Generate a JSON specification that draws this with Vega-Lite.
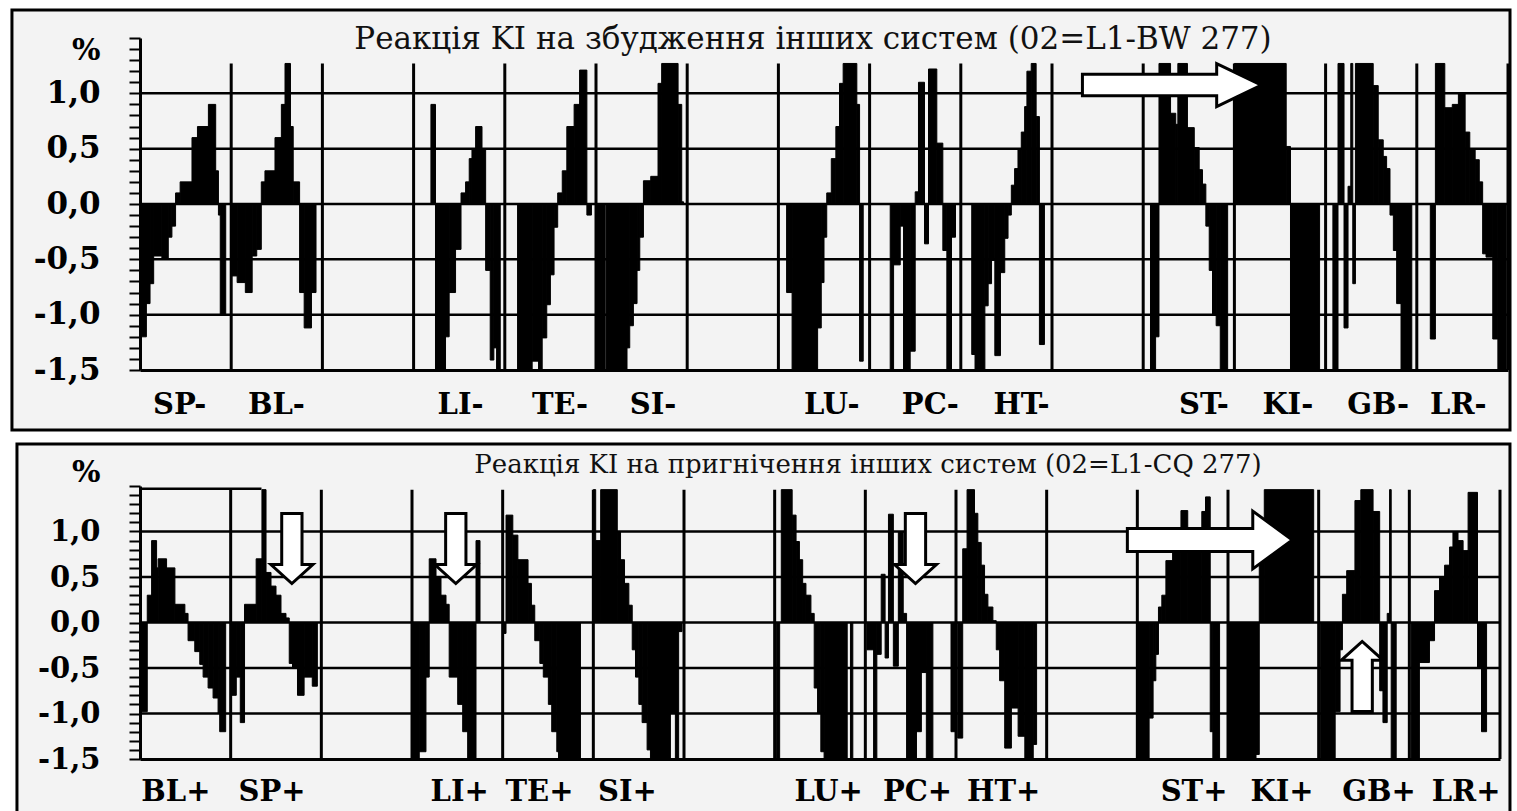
{
  "$schema": "https://vega.github.io/schema/vega-lite/v6.json",
  "background": "white",
  "padding": {"left": 10, "top": 8, "right": 0, "bottom": 0},
  "spacing": 10,
  "config": {
    "view": {"stroke": null},
    "axis": {"domainColor": "black", "tickColor": "black", "labelColor": "black", "titleColor": "black", "grid": false, "labelOverlap": false, "labelFlush": false, "labelBound": false}
  },
  "datasets": {
    "top": [
      {"a":0,"b":0.07,"v":-1.2},{"a":0.07,"b":0.11,"v":-0.9},{"a":0.11,"b":0.15,"v":-0.72},{"a":0.15,"b":0.24,"v":-0.47},{"a":0.24,"b":0.31,"v":-0.5},{"a":0.31,"b":0.35,"v":-0.3},{"a":0.35,"b":0.39,"v":-0.2},{"a":0.39,"b":0.44,"v":0.1},{"a":0.44,"b":0.57,"v":0.2},{"a":0.57,"b":0.63,"v":0.6},{"a":0.63,"b":0.75,"v":0.7},{"a":0.75,"b":0.83,"v":0.9},{"a":0.83,"b":0.86,"v":0.3},{"a":0.86,"b":0.88,"v":-0.1},{"a":0.88,"b":0.94,"v":-1.0},
      {"a":1.0,"b":1.065,"v":-0.65},{"a":1.065,"b":1.155,"v":-0.71},{"a":1.155,"b":1.23,"v":-0.8},{"a":1.23,"b":1.28,"v":-0.47},{"a":1.28,"b":1.33,"v":-0.41},{"a":1.33,"b":1.37,"v":0.2},{"a":1.37,"b":1.48,"v":0.3},{"a":1.48,"b":1.55,"v":0.6},{"a":1.55,"b":1.59,"v":0.9},{"a":1.59,"b":1.65,"v":1.27},{"a":1.65,"b":1.68,"v":0.7},{"a":1.68,"b":1.75,"v":0.2},{"a":1.75,"b":1.8,"v":-0.8},{"a":1.8,"b":1.88,"v":-1.12},{"a":1.88,"b":1.93,"v":-0.8},
      {"a":3.19,"b":3.24,"v":0.9},{"a":3.24,"b":3.35,"v":-1.5},{"a":3.35,"b":3.39,"v":-1.2},{"a":3.39,"b":3.46,"v":-0.8},{"a":3.46,"b":3.52,"v":-0.41},{"a":3.52,"b":3.57,"v":0.1},{"a":3.57,"b":3.61,"v":0.2},{"a":3.61,"b":3.64,"v":0.41},{"a":3.64,"b":3.68,"v":0.5},{"a":3.68,"b":3.75,"v":0.7},{"a":3.75,"b":3.79,"v":0.5},{"a":3.79,"b":3.84,"v":-0.6},{"a":3.84,"b":3.88,"v":-1.41},{"a":3.88,"b":3.91,"v":-1.3},{"a":3.91,"b":3.95,"v":-1.5},
      {"a":4.14,"b":4.3,"v":-1.5},{"a":4.3,"b":4.37,"v":-1.42},{"a":4.37,"b":4.41,"v":-1.5},{"a":4.41,"b":4.46,"v":-1.21},{"a":4.46,"b":4.5,"v":-0.91},{"a":4.5,"b":4.54,"v":-0.64},{"a":4.54,"b":4.58,"v":-0.21},{"a":4.58,"b":4.63,"v":0.1},{"a":4.63,"b":4.68,"v":0.3},{"a":4.68,"b":4.76,"v":0.7},{"a":4.76,"b":4.82,"v":0.9},{"a":4.82,"b":4.9,"v":1.21},{"a":4.9,"b":4.95,"v":-0.1},
      {"a":5.0,"b":5.1,"v":-1.5},{"a":5.11,"b":5.34,"v":-1.5},{"a":5.34,"b":5.37,"v":-1.3},{"a":5.37,"b":5.41,"v":-1.1},{"a":5.41,"b":5.45,"v":-0.9},{"a":5.45,"b":5.48,"v":-0.6},{"a":5.48,"b":5.52,"v":-0.3},{"a":5.52,"b":5.6,"v":0.21},{"a":5.6,"b":5.68,"v":0.25},{"a":5.68,"b":5.72,"v":1.09},{"a":5.72,"b":5.9,"v":1.27},{"a":5.9,"b":5.94,"v":0.9},{"a":5.94,"b":5.96,"v":0.02},
      {"a":7.09,"b":7.15,"v":-0.8},{"a":7.15,"b":7.43,"v":-1.5},{"a":7.43,"b":7.47,"v":-1.12},{"a":7.47,"b":7.5,"v":-0.71},{"a":7.5,"b":7.53,"v":-0.3},{"a":7.53,"b":7.58,"v":0.1},{"a":7.58,"b":7.63,"v":0.41},{"a":7.63,"b":7.67,"v":0.7},{"a":7.67,"b":7.71,"v":1.09},{"a":7.71,"b":7.86,"v":1.27},{"a":7.86,"b":7.89,"v":0.9},{"a":7.89,"b":7.93,"v":-1.42},
      {"a":8.226,"b":8.263,"v":-1.5},{"a":8.263,"b":8.336,"v":-0.55},{"a":8.336,"b":8.372,"v":-0.2},{"a":8.372,"b":8.445,"v":-1.5},{"a":8.445,"b":8.5,"v":-1.33},{"a":8.5,"b":8.536,"v":0.11},{"a":8.536,"b":8.602,"v":1.1},{"a":8.602,"b":8.646,"v":-0.36},{"a":8.646,"b":8.737,"v":1.22},{"a":8.737,"b":8.803,"v":0.55},{"a":8.803,"b":8.847,"v":-0.42},{"a":8.847,"b":8.898,"v":-1.5},{"a":8.898,"b":8.942,"v":-0.3},
      {"a":9.12,"b":9.156,"v":-1.36},{"a":9.156,"b":9.264,"v":-1.5},{"a":9.264,"b":9.3,"v":-0.92},{"a":9.3,"b":9.337,"v":-0.72},{"a":9.337,"b":9.373,"v":-0.51},{"a":9.373,"b":9.435,"v":-1.37},{"a":9.435,"b":9.482,"v":-0.62},{"a":9.482,"b":9.518,"v":-0.31},{"a":9.518,"b":9.554,"v":-0.1},{"a":9.554,"b":9.59,"v":0.17},{"a":9.59,"b":9.627,"v":0.32},{"a":9.627,"b":9.663,"v":0.49},{"a":9.663,"b":9.7,"v":0.65},{"a":9.7,"b":9.725,"v":0.88},{"a":9.725,"b":9.772,"v":1.2},{"a":9.772,"b":9.826,"v":1.27},{"a":9.826,"b":9.862,"v":0.79},{"a":9.862,"b":9.917,"v":-1.27},
      {"a":11.08,"b":11.136,"v":-1.5},{"a":11.136,"b":11.173,"v":-1.2},{"a":11.173,"b":11.3,"v":1.27},{"a":11.3,"b":11.357,"v":0.82},{"a":11.357,"b":11.38,"v":0.72},{"a":11.38,"b":11.485,"v":1.27},{"a":11.485,"b":11.56,"v":0.69},{"a":11.56,"b":11.614,"v":0.51},{"a":11.614,"b":11.65,"v":0.31},{"a":11.65,"b":11.687,"v":0.18},{"a":11.687,"b":11.724,"v":-0.2},{"a":11.724,"b":11.76,"v":-0.6},{"a":11.76,"b":11.8,"v":-1.0},{"a":11.8,"b":11.845,"v":-1.1},{"a":11.845,"b":11.926,"v":-1.5},
      {"a":12.0,"b":12.568,"v":1.27},{"a":12.568,"b":12.615,"v":0.52},{"a":12.615,"b":12.934,"v":-1.5},
      {"a":13.08,"b":13.136,"v":-1.5},{"a":13.136,"b":13.202,"v":1.27},{"a":13.202,"b":13.246,"v":-1.12},{"a":13.246,"b":13.276,"v":0.16},{"a":13.276,"b":13.298,"v":1.27},{"a":13.298,"b":13.327,"v":-0.72},{"a":13.327,"b":13.522,"v":1.27},{"a":13.522,"b":13.577,"v":1.07},{"a":13.577,"b":13.632,"v":0.58},{"a":13.632,"b":13.669,"v":0.43},{"a":13.669,"b":13.706,"v":0.32},{"a":13.706,"b":13.743,"v":-0.1},{"a":13.743,"b":13.779,"v":-0.42},{"a":13.779,"b":13.827,"v":-0.9},{"a":13.827,"b":13.945,"v":-1.5},
      {"a":14.148,"b":14.204,"v":-1.22},{"a":14.204,"b":14.307,"v":1.27},{"a":14.307,"b":14.389,"v":0.87},{"a":14.389,"b":14.456,"v":0.9},{"a":14.456,"b":14.53,"v":1.0},{"a":14.53,"b":14.581,"v":0.65},{"a":14.581,"b":14.64,"v":0.5},{"a":14.64,"b":14.685,"v":0.4},{"a":14.685,"b":14.722,"v":0.2},{"a":14.722,"b":14.759,"v":-0.45},{"a":14.759,"b":14.833,"v":-0.48},{"a":14.833,"b":14.889,"v":-1.22},{"a":14.889,"b":14.981,"v":-1.5}
    ],
    "bot": [
      {"a":0,"b":0.018,"v":-0.12},{"a":0.018,"b":0.08,"v":-0.98},{"a":0.08,"b":0.128,"v":0.3},{"a":0.128,"b":0.183,"v":0.9},{"a":0.183,"b":0.2,"v":0.6},{"a":0.2,"b":0.293,"v":0.7},{"a":0.293,"b":0.385,"v":0.6},{"a":0.385,"b":0.495,"v":0.2},{"a":0.495,"b":0.53,"v":0.1},{"a":0.53,"b":0.604,"v":-0.2},{"a":0.604,"b":0.659,"v":-0.32},{"a":0.659,"b":0.696,"v":-0.46},{"a":0.696,"b":0.751,"v":-0.6},{"a":0.751,"b":0.806,"v":-0.72},{"a":0.806,"b":0.861,"v":-0.83},{"a":0.861,"b":0.879,"v":-1.0},{"a":0.879,"b":0.945,"v":-1.2},
      {"a":1.007,"b":1.062,"v":-0.8},{"a":1.062,"b":1.106,"v":-0.6},{"a":1.106,"b":1.153,"v":-1.1},{"a":1.153,"b":1.281,"v":0.2},{"a":1.281,"b":1.345,"v":0.7},{"a":1.345,"b":1.39,"v":1.46},{"a":1.39,"b":1.445,"v":0.55},{"a":1.445,"b":1.5,"v":0.4},{"a":1.5,"b":1.555,"v":0.3},{"a":1.555,"b":1.61,"v":0.1},{"a":1.61,"b":1.646,"v":0.05},{"a":1.646,"b":1.682,"v":-0.45},{"a":1.682,"b":1.737,"v":-0.5},{"a":1.737,"b":1.81,"v":-0.8},{"a":1.81,"b":1.9,"v":-0.6},{"a":1.9,"b":1.956,"v":-0.7},
      {"a":3.0,"b":3.08,"v":-1.5},{"a":3.08,"b":3.154,"v":-1.42},{"a":3.154,"b":3.19,"v":-0.6},{"a":3.19,"b":3.265,"v":0.7},{"a":3.265,"b":3.32,"v":0.5},{"a":3.32,"b":3.375,"v":0.3},{"a":3.375,"b":3.41,"v":0.2},{"a":3.41,"b":3.504,"v":-0.6},{"a":3.504,"b":3.559,"v":-0.9},{"a":3.559,"b":3.614,"v":-1.2},{"a":3.614,"b":3.706,"v":-1.5},{"a":3.706,"b":3.75,"v":0.9},
      {"a":4.0,"b":4.037,"v":-0.12},{"a":4.037,"b":4.112,"v":1.18},{"a":4.112,"b":4.168,"v":0.96},{"a":4.168,"b":4.28,"v":0.69},{"a":4.28,"b":4.317,"v":0.43},{"a":4.317,"b":4.354,"v":0.19},{"a":4.354,"b":4.41,"v":-0.2},{"a":4.41,"b":4.448,"v":-0.45},{"a":4.448,"b":4.504,"v":-0.6},{"a":4.504,"b":4.541,"v":-0.9},{"a":4.541,"b":4.597,"v":-1.2},{"a":4.597,"b":4.616,"v":-1.42},{"a":4.616,"b":4.858,"v":-1.5},
      {"a":5.0,"b":5.026,"v":1.46},{"a":5.026,"b":5.081,"v":0.9},{"a":5.081,"b":5.264,"v":1.46},{"a":5.264,"b":5.3,"v":1.0},{"a":5.3,"b":5.344,"v":0.69},{"a":5.344,"b":5.392,"v":0.43},{"a":5.392,"b":5.429,"v":0.19},{"a":5.429,"b":5.465,"v":-0.3},{"a":5.465,"b":5.502,"v":-0.6},{"a":5.502,"b":5.538,"v":-0.9},{"a":5.538,"b":5.593,"v":-1.1},{"a":5.593,"b":5.63,"v":-1.4},{"a":5.63,"b":5.85,"v":-1.5},{"a":5.85,"b":5.905,"v":-1.0},{"a":5.905,"b":5.941,"v":-1.5},{"a":5.941,"b":5.978,"v":-0.1},
      {"a":7.018,"b":7.055,"v":-1.5},{"a":7.073,"b":7.193,"v":1.46},{"a":7.193,"b":7.236,"v":1.18},{"a":7.236,"b":7.273,"v":0.89},{"a":7.273,"b":7.309,"v":0.69},{"a":7.309,"b":7.345,"v":0.43},{"a":7.345,"b":7.4,"v":0.3},{"a":7.4,"b":7.436,"v":0.1},{"a":7.436,"b":7.473,"v":-0.72},{"a":7.473,"b":7.509,"v":-1.0},{"a":7.509,"b":7.545,"v":-1.42},{"a":7.545,"b":7.8,"v":-1.5},{"a":7.836,"b":7.862,"v":-1.5},
      {"a":8.018,"b":8.091,"v":-0.3},{"a":8.091,"b":8.127,"v":-1.5},{"a":8.127,"b":8.175,"v":-0.35},{"a":8.175,"b":8.218,"v":0.53},{"a":8.218,"b":8.255,"v":-0.39},{"a":8.255,"b":8.309,"v":1.19},{"a":8.309,"b":8.364,"v":-0.48},{"a":8.364,"b":8.418,"v":1.0},{"a":8.418,"b":8.455,"v":0.1},{"a":8.455,"b":8.564,"v":-1.5},{"a":8.564,"b":8.618,"v":-1.2},{"a":8.618,"b":8.673,"v":-0.55},{"a":8.673,"b":8.745,"v":-1.5},{"a":8.945,"b":9.0,"v":-1.2},
      {"a":9.019,"b":9.074,"v":-1.27},{"a":9.074,"b":9.122,"v":0.81},{"a":9.122,"b":9.204,"v":1.46},{"a":9.204,"b":9.241,"v":1.2},{"a":9.241,"b":9.278,"v":0.88},{"a":9.278,"b":9.315,"v":0.63},{"a":9.315,"b":9.352,"v":0.31},{"a":9.352,"b":9.407,"v":0.17},{"a":9.407,"b":9.444,"v":0.02},{"a":9.444,"b":9.481,"v":-0.3},{"a":9.481,"b":9.537,"v":-0.64},{"a":9.537,"b":9.611,"v":-1.38},{"a":9.611,"b":9.685,"v":-0.94},{"a":9.685,"b":9.759,"v":-1.25},{"a":9.759,"b":9.852,"v":-1.5},{"a":9.852,"b":9.889,"v":-1.34},
      {"a":11.0,"b":11.13,"v":-1.5},{"a":11.13,"b":11.174,"v":-1.05},{"a":11.174,"b":11.204,"v":-0.64},{"a":11.204,"b":11.233,"v":-0.35},{"a":11.233,"b":11.27,"v":0.17},{"a":11.27,"b":11.315,"v":0.3},{"a":11.315,"b":11.389,"v":0.68},{"a":11.389,"b":11.481,"v":0.9},{"a":11.481,"b":11.556,"v":1.23},{"a":11.556,"b":11.711,"v":0.9},{"a":11.711,"b":11.752,"v":1.22},{"a":11.752,"b":11.804,"v":1.38},{"a":11.804,"b":11.833,"v":-1.2},{"a":11.833,"b":11.907,"v":-1.5},
      {"a":12.011,"b":12.309,"v":-1.5},{"a":12.309,"b":12.345,"v":-1.45},{"a":12.345,"b":12.4,"v":1.0},{"a":12.4,"b":12.945,"v":1.46},
      {"a":13.018,"b":13.182,"v":-1.5},{"a":13.182,"b":13.236,"v":-0.98},{"a":13.236,"b":13.262,"v":-0.3},{"a":13.262,"b":13.309,"v":0.31},{"a":13.309,"b":13.4,"v":0.57},{"a":13.4,"b":13.465,"v":1.34},{"a":13.465,"b":13.6,"v":1.46},{"a":13.6,"b":13.673,"v":1.22},{"a":13.673,"b":13.709,"v":-0.75},{"a":13.709,"b":13.756,"v":-1.1},{"a":13.756,"b":13.782,"v":0.1},{"a":13.782,"b":13.8,"v":1.46},{"a":13.8,"b":13.855,"v":-1.5},
      {"a":14.019,"b":14.111,"v":-1.5},{"a":14.111,"b":14.222,"v":-0.44},{"a":14.222,"b":14.278,"v":-0.2},{"a":14.278,"b":14.333,"v":0.35},{"a":14.333,"b":14.389,"v":0.5},{"a":14.389,"b":14.444,"v":0.63},{"a":14.444,"b":14.481,"v":0.83},{"a":14.481,"b":14.537,"v":1.0},{"a":14.537,"b":14.593,"v":0.9},{"a":14.593,"b":14.648,"v":0.79},{"a":14.648,"b":14.752,"v":1.43},{"a":14.752,"b":14.796,"v":-0.5},{"a":14.796,"b":14.852,"v":-1.2}
    ]
  },
  "vconcat": [
    {
      "width": 1368,
      "height": 332,
      "title": {"text": "Реакція KI на збудження інших систем (02=L1-BW 277)", "font": "DejaVu Serif", "fontSize": 31, "fontWeight": "normal", "color": "#111111", "anchor": "middle", "frame": "group", "dx": -11, "offset": -47},
      "layer": [
        {
          "data": {"values": [{}]},
          "mark": {"type": "rect", "fill": "#f3f3f3", "stroke": "black", "strokeWidth": 3},
          "encoding": {
            "x": {"datum": -1.404, "type": "quantitative", "scale": {"domain": [0, 15], "nice": false, "zero": false}},
            "x2": {"datum": 15.022},
            "y": {"datum": 1.753, "type": "quantitative", "scale": {"domain": [-1.5, 1.5], "nice": false, "zero": false}},
            "y2": {"datum": -2.042}
          }
        },
        {
          "data": {"values": [{"g": -1}, {"g": -0.5}, {"g": 0}, {"g": 0.5}, {"g": 1}]},
          "mark": {"type": "rule", "color": "black", "strokeWidth": 2.5},
          "encoding": {"y": {"field": "g", "type": "quantitative", "scale": {"domain": [-1.5, 1.5], "nice": false, "zero": false}}}
        },
        {
          "data": {"values": [{"s": 1}, {"s": 2}, {"s": 3}, {"s": 4}, {"s": 5}, {"s": 6}, {"s": 7}, {"s": 8}, {"s": 9}, {"s": 10}, {"s": 11}, {"s": 12}, {"s": 13}, {"s": 14}, {"s": 15}]},
          "mark": {"type": "rule", "color": "black", "strokeWidth": 3},
          "encoding": {
            "x": {"field": "s", "type": "quantitative", "scale": {"domain": [0, 15], "nice": false, "zero": false}},
            "y": {"datum": -1.5, "type": "quantitative", "scale": {"domain": [-1.5, 1.5], "nice": false, "zero": false}},
            "y2": {"datum": 1.27}
          }
        },
        {
          "data": {"name": "top"},
          "mark": {"type": "rect", "color": "black", "stroke": "black", "strokeWidth": 1},
          "encoding": {
            "x": {"field": "a", "type": "quantitative", "scale": {"domain": [0, 15], "nice": false, "zero": false},
              "axis": {"zindex": 2, "tickCount": 60, "values": [0.43, 1.49, 3.51, 4.6, 5.62, 7.58, 8.66, 9.66, 11.66, 12.58, 13.57, 14.45], "labelExpr": "['SP-','BL-','','LI-','TE-','SI-','','LU-','PC-','HT-','','ST-','KI-','GB-','LR-'][floor(datum.value)]", "ticks": false, "tickSize": 0, "domainWidth": 3, "labelFont": "DejaVu Serif", "labelFontSize": 29, "labelFontWeight": "bold", "labelPadding": 20, "title": null}},
            "x2": {"field": "b"},
            "y": {"field": "v", "type": "quantitative", "scale": {"domain": [-1.5, 1.5], "nice": false, "zero": false},
              "axis": {"zindex": 2, "tickCount": 60, "values": [-1.5,-1.4,-1.3,-1.2,-1.1,-1,-0.9,-0.8,-0.7,-0.6,-0.5,-0.4,-0.3,-0.2,-0.1,0,0.1,0.2,0.3,0.4,0.5,0.6,0.7,0.8,0.9,1,1.1,1.2,1.3,1.4,1.5], "labelExpr": "(abs(datum.value*2 - round(datum.value*2)) < 0.01 && datum.value < 1.2) ? replace(replace(format(datum.value, '.1f'), '.', ','), '\u2212', '-') : ''", "tickSize": 11, "tickWidth": 2, "domainWidth": 3, "labelFont": "DejaVu Serif", "labelFontSize": 31, "labelFontWeight": "bold", "labelPadding": 29, "title": "%", "titleAngle": 0, "titleAlign": "right", "titleBaseline": "middle", "titleX": -40, "titleY": 12, "titleFont": "DejaVu Serif", "titleFontSize": 30, "titleFontWeight": "bold"}},
            "y2": {"datum": 0}
          }
        },
        {
          "data": {"values": [{"ax": 11.315, "ay": 1.075}]},
          "mark": {"type": "point", "shape": "M-1,-0.12L0.5,-0.12L0.5,-0.24L1,0L0.5,0.24L0.5,0.12L-1,0.12Z", "size": 32041, "filled": true, "fill": "white", "stroke": "black", "strokeWidth": 3, "opacity": 1},
          "encoding": {
            "x": {"field": "ax", "type": "quantitative", "scale": {"domain": [0, 15], "nice": false, "zero": false}},
            "y": {"field": "ay", "type": "quantitative", "scale": {"domain": [-1.5, 1.5], "nice": false, "zero": false}}
          }
        }
      ]
    },
    {
      "width": 1360,
      "height": 273,
      "title": {"text": "Реакція KI на пригнічення інших систем (02=L1-CQ 277)", "font": "DejaVu Serif", "fontSize": 26, "fontWeight": "normal", "color": "#111111", "anchor": "middle", "frame": "group", "dx": 48, "offset": -36},
      "layer": [
        {
          "data": {"values": [{}]},
          "mark": {"type": "rect", "fill": "#f3f3f3", "stroke": "black", "strokeWidth": 3},
          "encoding": {
            "x": {"datum": -1.357, "type": "quantitative", "scale": {"domain": [0, 15], "nice": false, "zero": false}},
            "x2": {"datum": 15.11},
            "y": {"datum": 1.962, "type": "quantitative", "scale": {"domain": [-1.5, 1.5], "nice": false, "zero": false}},
            "y2": {"datum": -2.2}
          }
        },
        {
          "data": {"values": [{"g": -1}, {"g": -0.5}, {"g": 0}, {"g": 0.5}, {"g": 1}]},
          "mark": {"type": "rule", "color": "black", "strokeWidth": 2.5},
          "encoding": {"y": {"field": "g", "type": "quantitative", "scale": {"domain": [-1.5, 1.5], "nice": false, "zero": false}}}
        },
        {
          "data": {"values": [{"s": 1}, {"s": 2}, {"s": 3}, {"s": 4}, {"s": 5}, {"s": 6}, {"s": 7}, {"s": 8}, {"s": 9}, {"s": 10}, {"s": 11}, {"s": 12}, {"s": 13}, {"s": 14}, {"s": 15}]},
          "mark": {"type": "rule", "color": "black", "strokeWidth": 3},
          "encoding": {
            "x": {"field": "s", "type": "quantitative", "scale": {"domain": [0, 15], "nice": false, "zero": false}},
            "y": {"datum": -1.5, "type": "quantitative", "scale": {"domain": [-1.5, 1.5], "nice": false, "zero": false}},
            "y2": {"datum": 1.46}
          }
        },
        {
          "data": {"values": [{}]},
          "mark": {"type": "rule", "color": "black", "strokeWidth": 2.5},
          "encoding": {
            "x": {"datum": 0, "type": "quantitative", "scale": {"domain": [0, 15], "nice": false, "zero": false}},
            "x2": {"datum": 1.34},
            "y": {"datum": 1.47, "type": "quantitative", "scale": {"domain": [-1.5, 1.5], "nice": false, "zero": false}}
          }
        },
        {
          "data": {"name": "bot"},
          "mark": {"type": "rect", "color": "black", "stroke": "black", "strokeWidth": 1},
          "encoding": {
            "x": {"field": "a", "type": "quantitative", "scale": {"domain": [0, 15], "nice": false, "zero": false},
              "axis": {"zindex": 2, "tickCount": 60, "values": [0.39, 1.45, 3.52, 4.4, 5.37, 7.59, 8.57, 9.52, 11.62, 12.59, 13.66, 14.62], "labelExpr": "['BL+','SP+','','LI+','TE+','SI+','','LU+','PC+','HT+','','ST+','KI+','GB+','LR+'][floor(datum.value)]", "ticks": false, "tickSize": 0, "domainWidth": 3, "labelFont": "DejaVu Serif", "labelFontSize": 29, "labelFontWeight": "bold", "labelPadding": 18, "title": null}},
            "x2": {"field": "b"},
            "y": {"field": "v", "type": "quantitative", "scale": {"domain": [-1.5, 1.5], "nice": false, "zero": false},
              "axis": {"zindex": 2, "tickCount": 60, "values": [-1.5,-1.4,-1.3,-1.2,-1.1,-1,-0.9,-0.8,-0.7,-0.6,-0.5,-0.4,-0.3,-0.2,-0.1,0,0.1,0.2,0.3,0.4,0.5,0.6,0.7,0.8,0.9,1,1.1,1.2,1.3,1.4,1.5], "labelExpr": "(abs(datum.value*2 - round(datum.value*2)) < 0.01 && datum.value < 1.2) ? replace(replace(format(datum.value, '.1f'), '.', ','), '\u2212', '-') : ''", "tickSize": 11, "tickWidth": 2, "domainWidth": 3, "labelFont": "DejaVu Serif", "labelFontSize": 29, "labelFontWeight": "bold", "labelPadding": 29, "title": "%", "titleAngle": 0, "titleAlign": "right", "titleBaseline": "middle", "titleX": -40, "titleY": -14, "titleFont": "DejaVu Serif", "titleFontSize": 30, "titleFontWeight": "bold"}},
            "y2": {"datum": 0}
          }
        },
        {
          "data": {"values": [{"ax": 11.8, "ay": 0.907}]},
          "mark": {"type": "point", "shape": "M-1,-0.14L0.52,-0.14L0.52,-0.35L1,0L0.52,0.35L0.52,0.14L-1,0.14Z", "size": 27225, "filled": true, "fill": "white", "stroke": "black", "strokeWidth": 3, "opacity": 1},
          "encoding": {
            "x": {"field": "ax", "type": "quantitative", "scale": {"domain": [0, 15], "nice": false, "zero": false}},
            "y": {"field": "ay", "type": "quantitative", "scale": {"domain": [-1.5, 1.5], "nice": false, "zero": false}}
          }
        },
        {
          "data": {"values": [{"ax": 1.675, "ay": 0.813}, {"ax": 3.483, "ay": 0.813}, {"ax": 8.553, "ay": 0.813}]},
          "mark": {"type": "point", "shape": "M-0.29,-1L0.29,-1L0.29,0.46L0.6,0.46L0,1L-0.6,0.46L-0.29,0.46Z", "size": 4900, "filled": true, "fill": "white", "stroke": "black", "strokeWidth": 3, "opacity": 1},
          "encoding": {
            "x": {"field": "ax", "type": "quantitative", "scale": {"domain": [0, 15], "nice": false, "zero": false}},
            "y": {"field": "ay", "type": "quantitative", "scale": {"domain": [-1.5, 1.5], "nice": false, "zero": false}}
          }
        },
        {
          "data": {"values": [{"ax": 13.48, "ay": -0.593}]},
          "mark": {"type": "point", "shape": "M-0.29,1L0.29,1L0.29,-0.46L0.6,-0.46L0,-1L-0.6,-0.46L-0.29,-0.46Z", "size": 4900, "filled": true, "fill": "white", "stroke": "black", "strokeWidth": 3, "opacity": 1},
          "encoding": {
            "x": {"field": "ax", "type": "quantitative", "scale": {"domain": [0, 15], "nice": false, "zero": false}},
            "y": {"field": "ay", "type": "quantitative", "scale": {"domain": [-1.5, 1.5], "nice": false, "zero": false}}
          }
        }
      ]
    }
  ]
}
